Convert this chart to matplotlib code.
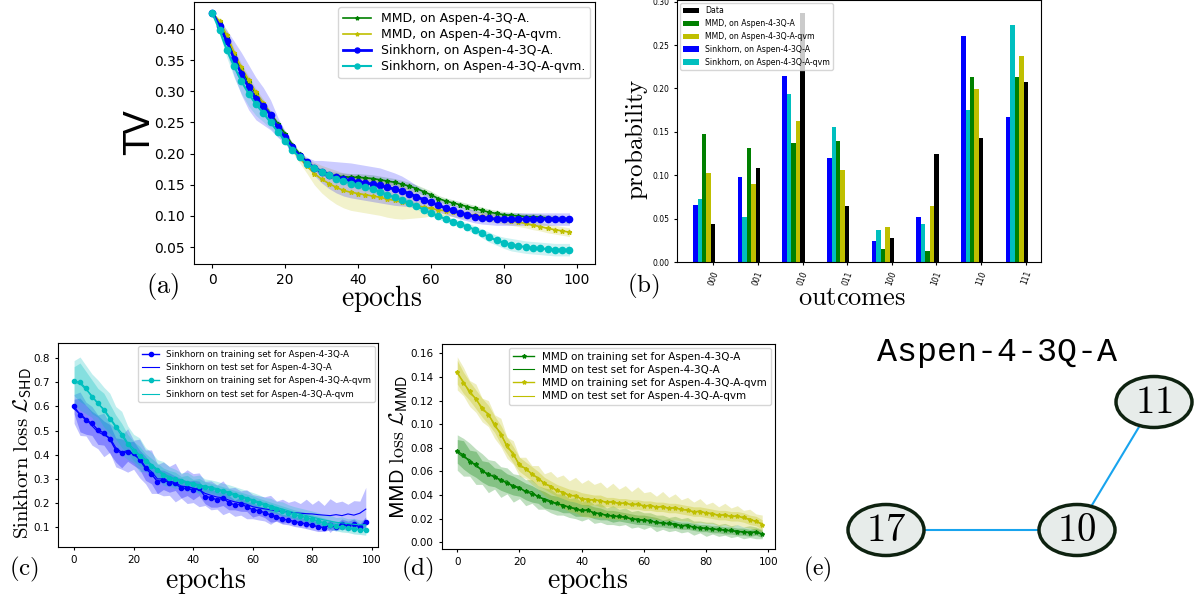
import numpy as np
import matplotlib
matplotlib.use('Agg')
import matplotlib.pyplot as plt
from matplotlib.patches import Ellipse

plt.rcParams['mathtext.fontset'] = 'cm'
plt.rcParams['font.family'] = ['DejaVu Sans']

W, H = 1203, 596

# ---------------- data ----------------
epochs = list(range(0, 99, 2))

# (a) total variation distance
tv_mmd_A = [.426, .410, .386, .358, .335, .314, .296, .280, .264, .248, .232, .214, .199, .187, .177,
            .170, .166, .164, .163, .162, .162, .161, .160, .158, .156, .154, .151, .148, .144, .139,
            .134, .128, .124, .121, .118, .115, .112, .109, .106, .104, .102, .101, .100, .099, .099,
            .098, .097, .096, .095, .093]
tv_mmd_qvm = [.426, .412, .390, .362, .338, .318, .298, .281, .262, .244, .226, .208, .193, .180, .168,
              .159, .152, .146, .141, .138, .136, .134, .132, .130, .127, .125, .122, .120, .117, .114,
              .112, .110, .108, .106, .104, .102, .101, .100, .098, .096, .094, .092, .090, .088, .085,
              .083, .080, .078, .076, .074]
tv_sink_A = [.426, .405, .380, .352, .328, .306, .288, .276, .262, .242, .226, .210, .196, .186, .177,
             .171, .166, .162, .159, .157, .155, .153, .151, .149, .146, .143, .140, .136, .131, .126,
             .122, .117, .113, .109, .105, .102, .099, .097, .096, .095, .095, .095, .095, .095, .095,
             .095, .095, .095, .095, .095]
tv_sink_qvm = [.426, .398, .366, .340, .316, .296, .279, .265, .250, .235, .220, .206, .194, .184, .177,
               .171, .165, .160, .156, .152, .149, .146, .143, .139, .134, .130, .126, .121, .116, .110,
               .105, .100, .095, .091, .087, .083, .078, .072, .066, .061, .057, .054, .052, .050, .049,
               .048, .047, .046, .046, .046]
tv_mmd_A_sd = [0, .003, .004, .004, .004, .004, .004, .004, .004, .004, .004, .004, .004, .004, .004,
               .005, .005, .006, .006, .006, .006, .006, .006, .006, .006, .006, .006, .006, .006, .006,
               .006, .005, .005, .005, .005, .005, .005, .005, .005, .005, .005, .005, .005, .005, .005,
               .005, .005, .005, .005, .005]
tv_mmd_qvm_sd = [0, .005, .008, .006, .006, .006, .006, .006, .006, .006, .006, .006, .008, .012, .018,
                 .022, .025, .027, .028, .029, .029, .029, .029, .029, .029, .029, .027, .024, .020, .016,
                 .012, .010, .008, .007, .007, .007, .007, .007, .007, .007, .007, .007, .007, .007, .007,
                 .007, .007, .007, .007, .007]
tv_sink_A_sd = [0, .008, .018, .028, .034, .036, .034, .030, .024, .016, .010, .006, .006, .008, .012,
                .018, .022, .025, .027, .028, .028, .028, .028, .028, .027, .026, .024, .021, .018, .015,
                .013, .011, .010, .010, .010, .010, .010, .010, .010, .010, .010, .010, .010, .010, .010,
                .010, .010, .010, .010, .010]
tv_sink_qvm_sd = [0, .006, .012, .018, .020, .020, .018, .014, .010, .007, .005, .004, .004, .004, .004,
                  .005, .005, .005, .005, .005, .005, .005, .005, .005, .005, .005, .005, .005, .005, .005,
                  .005, .005, .005, .005, .005, .006, .006, .007, .008, .008, .009, .010, .010, .010, .010,
                  .010, .010, .010, .010, .010]

# (b) learned distributions
outcomes = ['000', '001', '010', '011', '100', '101', '110', '111']
prob_data = [.044, .108, .287, .064, .028, .124, .143, .207]
prob_mmd_A = [.147, .131, .137, .139, .015, .013, .213, .213]
prob_mmd_qvm = [.103, .090, .162, .106, .040, .065, .199, .238]
prob_sink_A = [.066, .098, .214, .120, .024, .052, .260, .167]
prob_sink_qvm = [.073, .052, .194, .156, .037, .044, .175, .273]

# (c) Sinkhorn loss
shd_A_train = [.600, .565, .545, .530, .503, .490, .465, .420, .406, .413, .406, .380, .344, .320, .289,
               .296, .285, .282, .261, .261, .254, .261, .227, .223, .213, .220, .202, .192, .196, .185,
               .172, .169, .160, .151, .144, .133, .130, .123, .119, .114, .108, .102, .098, .109, .100,
               .114, .105, .114, .100, .123]
shd_A_test = [.590, .570, .548, .520, .495, .482, .470, .430, .410, .418, .400, .385, .350, .330, .300,
              .300, .292, .285, .270, .268, .262, .255, .240, .232, .225, .222, .212, .205, .200, .195,
              .185, .180, .176, .172, .168, .166, .163, .160, .158, .156, .155, .152, .150, .148, .152,
              .148, .155, .150, .158, .175]
shd_qvm_train = [.705, .700, .675, .640, .615, .585, .550, .515, .480, .445, .415, .395, .375, .355, .335,
                 .315, .305, .298, .290, .285, .278, .272, .268, .262, .255, .248, .240, .232, .225, .218,
                 .210, .200, .192, .184, .176, .168, .160, .152, .146, .140, .132, .125, .118, .110, .105,
                 .100, .098, .092, .090, .087]
shd_qvm_test = [.700, .695, .670, .645, .610, .590, .555, .520, .490, .450, .425, .400, .380, .360, .340,
                .322, .310, .300, .295, .288, .282, .276, .270, .266, .260, .252, .246, .238, .230, .222,
                .214, .205, .198, .190, .182, .175, .168, .160, .154, .148, .142, .136, .130, .125, .120,
                .118, .115, .112, .110, .110]
shd_A_train_sd = [.03, .07, .06, .05, .06, .05, .06, .05, .06, .04, .05, .04, .05, .04, .05, .04, .04, .03,
                  .04, .03, .04, .03, .03, .04, .03, .03, .03, .02, .03, .02, .03, .02, .02, .03, .02, .02,
                  .02, .02, .02, .02, .02, .02, .015, .02, .015, .02, .02, .02, .015, .02]
shd_A_test_sd = [.06, .09, .07, .08, .07, .09, .06, .08, .07, .09, .06, .08, .07, .09, .06, .07, .06, .08,
                 .05, .07, .06, .07, .05, .06, .05, .07, .05, .06, .05, .06, .05, .05, .05, .06, .04, .05,
                 .04, .05, .04, .06, .04, .06, .04, .07, .05, .06, .04, .06, .05, .09]
shd_qvm_train_sd = [.06, .08, .07, .07, .06, .07, .06, .05, .05, .04, .04, .04, .03, .03, .03, .03, .03,
                    .03, .02, .03, .02, .03, .02, .02, .02, .02, .02, .02, .02, .02, .02, .02, .02, .02,
                    .02, .02, .02, .02, .02, .02, .02, .02, .02, .02, .02, .02, .02, .02, .02, .02]
shd_qvm_test_sd = [.09, .11, .10, .09, .10, .09, .10, .08, .09, .07, .06, .07, .05, .05, .04, .05, .04,
                   .04, .03, .04, .03, .04, .03, .03, .03, .03, .03, .03, .03, .03, .03, .03, .025, .03,
                   .025, .03, .025, .025, .025, .025, .025, .025, .02, .025, .02, .025, .02, .025, .02, .02]

# (d) MMD loss
mmd_A_train = [.077, .074, .068, .066, .060, .058, .055, .053, .050, .048, .046, .043, .041, .039, .036,
               .034, .033, .031, .030, .028, .027, .027, .025, .024, .023, .022, .022, .021, .020, .019,
               .019, .018, .017, .016, .016, .015, .014, .014, .013, .012, .012, .011, .011, .010, .010,
               .009, .009, .008, .009, .007]
mmd_A_test = [.076, .072, .070, .064, .062, .056, .057, .051, .052, .046, .047, .042, .043, .038, .037,
              .035, .032, .032, .029, .029, .026, .028, .024, .025, .022, .023, .021, .022, .019, .020,
              .018, .019, .016, .017, .015, .016, .014, .015, .012, .013, .011, .012, .010, .011, .009,
              .010, .008, .009, .008, .007]
mmd_qvm_train = [.144, .135, .128, .121, .114, .108, .100, .091, .082, .074, .066, .062, .058, .054, .050,
                 .047, .044, .042, .040, .039, .037, .036, .036, .035, .034, .034, .033, .033, .032, .032,
                 .031, .031, .030, .030, .029, .029, .028, .027, .026, .026, .025, .024, .023, .023, .022,
                 .022, .021, .019, .018, .015]
mmd_qvm_test = [.143, .136, .126, .122, .112, .109, .098, .093, .080, .076, .064, .063, .057, .055, .049,
                .048, .043, .043, .039, .040, .036, .037, .035, .036, .033, .035, .032, .034, .031, .033,
                .030, .032, .029, .031, .028, .030, .027, .028, .025, .027, .024, .025, .022, .024, .021,
                .023, .020, .020, .017, .016]
mmd_A_train_sd = [.010, .012, .010, .011, .009, .010, .008, .009, .008, .008, .007, .007, .007, .006, .007,
                  .006, .006, .006, .005, .006, .005, .005, .005, .005, .004, .005, .004, .004, .004, .004,
                  .004, .004, .004, .003, .004, .003, .003, .003, .003, .003, .003, .003, .003, .003, .003,
                  .003, .003, .003, .003, .003]
mmd_A_test_sd = [.015, .016, .014, .015, .013, .014, .012, .013, .011, .012, .010, .011, .010, .010, .009,
                 .010, .009, .009, .008, .009, .008, .008, .008, .008, .007, .008, .007, .007, .007, .007,
                 .007, .006, .007, .006, .006, .006, .006, .006, .006, .005, .006, .005, .005, .005, .005,
                 .005, .005, .005, .005, .004]
mmd_qvm_train_sd = [.010, .009, .008, .008, .008, .008, .007, .008, .007, .007, .006, .006, .006, .006,
                    .005, .005, .005, .005, .005, .005, .005, .005, .004, .005, .004, .004, .004, .004,
                    .004, .004, .004, .004, .004, .004, .004, .004, .004, .004, .004, .004, .004, .004,
                    .004, .004, .004, .004, .004, .004, .004, .004]
mmd_qvm_test_sd = [.014, .012, .011, .012, .010, .011, .010, .012, .009, .010, .008, .009, .008, .010,
                   .009, .012, .012, .014, .013, .015, .014, .016, .014, .015, .013, .015, .013, .014,
                   .012, .014, .012, .011, .010, .012, .010, .011, .009, .010, .009, .010, .008, .009,
                   .008, .009, .008, .008, .007, .008, .007, .007]

# (e) qubit connectivity
qubits = ['11', '10', '17']
couplings = [('11', '10'), ('10', '17')]
qubit_layout = {'11': (354, 82), '10': (277, 210), '17': (86, 210)}


def frac(x0, y0, x1, y1):
    # pixel box -> figure fraction rect
    return [x0 / W, 1 - y1 / H, (x1 - x0) / W, (y1 - y0) / H]


def ftext(x, y, s, **kw):
    fig.text(x / W, 1 - y / H, s, ha='center', va='center', **kw)


def band(ax, x, m, sd, color, alpha):
    m = np.array(m)
    sd = np.array(sd)
    ax.fill_between(x, m - sd, m + sd, color=color, alpha=alpha, linewidth=0)


fig = plt.figure(figsize=(W / 100, H / 100), dpi=100)

# ---------------- (a) ----------------
ax = fig.add_axes(frac(194, 2, 595, 264))
series_a = [(tv_mmd_A, tv_mmd_A_sd, 'g', '*', 3.5, 1.2, 'MMD, on Aspen-4-3Q-A.'),
            (tv_mmd_qvm, tv_mmd_qvm_sd, 'y', '*', 3.5, 1.2, 'MMD, on Aspen-4-3Q-A-qvm.'),
            (tv_sink_A, tv_sink_A_sd, 'b', 'o', 4.5, 2.0, 'Sinkhorn, on Aspen-4-3Q-A.'),
            (tv_sink_qvm, tv_sink_qvm_sd, 'c', 'o', 4.5, 1.5, 'Sinkhorn, on Aspen-4-3Q-A-qvm.')]
for m, sd, c, mk, ms, lw, lab in series_a:
    band(ax, epochs, m, sd, c, 0.2)
for m, sd, c, mk, ms, lw, lab in series_a:
    ax.plot(epochs, m, color=c, marker=mk, markersize=ms, linewidth=lw, label=lab)
ax.set_xlim(-5, 105)
ax.set_ylim(0.023, 0.443)
ax.set_xticks([0, 20, 40, 60, 80, 100])
ax.set_yticks([0.05, 0.10, 0.15, 0.20, 0.25, 0.30, 0.35, 0.40])
ax.tick_params(labelsize=10, length=3)
ax.legend(loc='upper right', fontsize=9, handlelength=2.2, borderaxespad=0.4,
          labelspacing=0.25, markerscale=0.8)
ftext(140, 133, 'TV', fontsize=25, rotation=90)
ftext(382, 298, r'$\mathrm{epochs}$', fontsize=20)
ftext(163, 287, r'$\mathrm{(a)}$', fontsize=19)

# ---------------- (b) ----------------
ax = fig.add_axes(frac(677, 0, 1041, 262))
xi = np.arange(len(outcomes))
bw = 0.1
hb = ax.bar(xi, prob_sink_A, bw, color='b', label='Sinkhorn, on Aspen-4-3Q-A')
hc = ax.bar(xi + bw, prob_sink_qvm, bw, color='c', label='Sinkhorn, on Aspen-4-3Q-A-qvm')
hg = ax.bar(xi + 2 * bw, prob_mmd_A, bw, color='g', label='MMD, on Aspen-4-3Q-A')
hy = ax.bar(xi + 3 * bw, prob_mmd_qvm, bw, color='y', label='MMD, on Aspen-4-3Q-A-qvm')
hk = ax.bar(xi + 4 * bw, prob_data, bw, color='k', label='Data')
ax.set_xlim(-0.41, 7.74)
ax.set_ylim(0, 0.302)
ax.set_xticks(xi + 4 * bw)
ax.set_xticklabels(outcomes, rotation=70)
ax.set_yticks([0, .05, .10, .15, .20, .25, .30])
ax.tick_params(labelsize=5.5, length=2)
ax.legend(handles=[hk, hg, hy, hb, hc], loc='upper left', fontsize=5.6, borderaxespad=0.4)
ftext(637, 139, r'$\mathrm{probability}$', fontsize=18, rotation=90)
ftext(852, 298, r'$\mathrm{outcomes}$', fontsize=19)
ftext(643, 286, r'$\mathrm{(b)}$', fontsize=18)

# ---------------- (c) ----------------
ax = fig.add_axes(frac(58, 343, 378, 547))
band(ax, epochs, shd_A_test, shd_A_test_sd, 'b', 0.25)
band(ax, epochs, shd_A_train, shd_A_train_sd, 'b', 0.3)
band(ax, epochs, shd_qvm_test, shd_qvm_test_sd, 'c', 0.25)
band(ax, epochs, shd_qvm_train, shd_qvm_train_sd, 'c', 0.3)
ax.plot(epochs, shd_A_train, color='b', marker='o', markersize=3, linewidth=1,
        label='Sinkhorn on training set for Aspen-4-3Q-A')
ax.plot(epochs, shd_A_test, color='b', linewidth=0.8, label='Sinkhorn on test set for Aspen-4-3Q-A')
ax.plot(epochs, shd_qvm_train, color='c', marker='o', markersize=3, linewidth=1,
        label='Sinkhorn on training set for Aspen-4-3Q-A-qvm')
ax.plot(epochs, shd_qvm_test, color='c', linewidth=0.8, label='Sinkhorn on test set for Aspen-4-3Q-A-qvm')
ax.set_xlim(-5.4, 102.1)
ax.set_ylim(0.018, 0.863)
ax.set_xticks([0, 20, 40, 60, 80, 100])
ax.set_yticks([0.1, 0.2, 0.3, 0.4, 0.5, 0.6, 0.7, 0.8])
ax.tick_params(labelsize=7.5, length=2.5)
ax.legend(loc='upper right', fontsize=6.3, borderaxespad=0.35)
ftext(23, 453, r'$\mathrm{Sinkhorn\ loss}\ \mathcal{L}_{\mathsf{SHD}}$', fontsize=15, rotation=90)
ftext(206, 581, r'$\mathrm{epochs}$', fontsize=20)
ftext(24, 569, r'$\mathrm{(c)}$', fontsize=18)

# ---------------- (d) ----------------
ax = fig.add_axes(frac(442, 344, 775, 549))
band(ax, epochs, mmd_A_test, mmd_A_test_sd, 'g', 0.25)
band(ax, epochs, mmd_A_train, mmd_A_train_sd, 'g', 0.3)
band(ax, epochs, mmd_qvm_test, mmd_qvm_test_sd, 'y', 0.25)
band(ax, epochs, mmd_qvm_train, mmd_qvm_train_sd, 'y', 0.3)
ax.plot(epochs, mmd_A_train, color='g', marker='*', markersize=3, linewidth=1,
        label='MMD on training set for Aspen-4-3Q-A')
ax.plot(epochs, mmd_A_test, color='g', linewidth=0.8, label='MMD on test set for Aspen-4-3Q-A')
ax.plot(epochs, mmd_qvm_train, color='y', marker='*', markersize=3, linewidth=1,
        label='MMD on training set for Aspen-4-3Q-A-qvm')
ax.plot(epochs, mmd_qvm_test, color='y', linewidth=0.8, label='MMD on test set for Aspen-4-3Q-A-qvm')
ax.set_xlim(-4.9, 102.1)
ax.set_ylim(-0.0057, 0.1679)
ax.set_xticks([0, 20, 40, 60, 80, 100])
ax.set_yticks([0, .02, .04, .06, .08, .10, .12, .14, .16])
ax.tick_params(labelsize=7.5, length=2.5)
ax.legend(loc='upper right', fontsize=7.5, borderaxespad=0.35, labelspacing=0.3)
ftext(399, 447, r'$\mathsf{MMD}\ \mathrm{loss}\ \mathcal{L}_{\mathsf{MMD}}$', fontsize=14.5, rotation=90)
ftext(588, 581, r'$\mathrm{epochs}$', fontsize=20)
ftext(417, 569, r'$\mathrm{(d)}$', fontsize=18)

# ---------------- (e) ----------------
ax = fig.add_axes(frac(800, 320, 1203, 596))
ax.set_xlim(0, 403)
ax.set_ylim(276, 0)
ax.axis('off')
for a, b in couplings:
    (x0, y0), (x1, y1) = qubit_layout[a], qubit_layout[b]
    ax.plot([x0, x1], [y0, y1], color='#18a4ee', linewidth=1.5, zorder=1)
for q in qubits:
    x, y = qubit_layout[q]
    ax.add_patch(Ellipse((x, y), 76, 51, facecolor='#e7ecea', edgecolor='#0e2210', linewidth=2.5, zorder=2))
    ax.text(x, y, '$' + q + '$', fontsize=28, ha='center', va='center', zorder=3)
ax.text(197, 33, 'Aspen-4-3Q-A', fontsize=24, family='Liberation Mono', ha='center', va='center')
ftext(817, 569, r'$\mathrm{(e)}$', fontsize=17)

fig.savefig('out.png', dpi=100)
